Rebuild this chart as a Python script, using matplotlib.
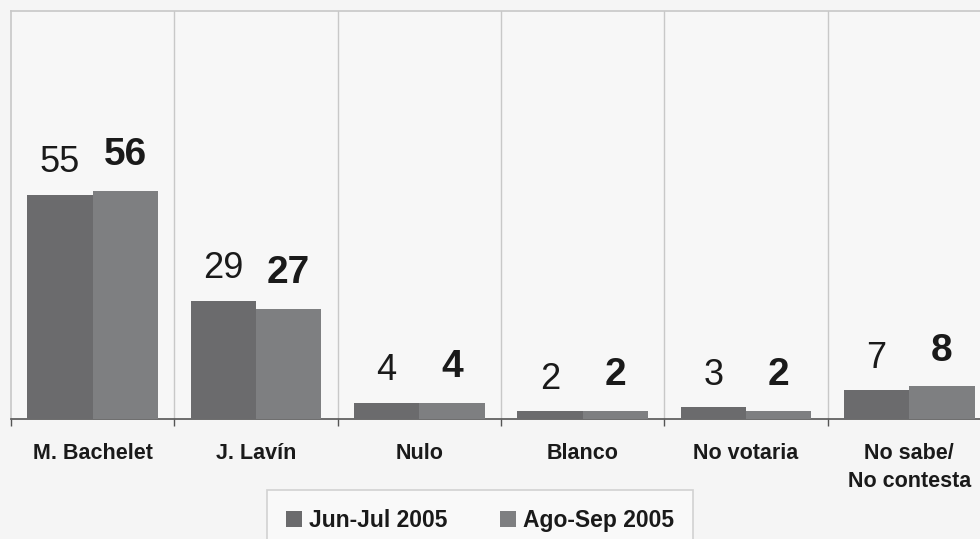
import numpy as np
import matplotlib
matplotlib.use("Agg")
import matplotlib.pyplot as plt

plt.rcParams['font.family'] = ['Liberation Sans', 'DejaVu Sans']

categorias = ["M. Bachelet", "J. Lavín", "Nulo", "Blanco", "No votaria", "No sabe/\nNo contesta"]
jun_jul = [55, 29, 4, 2, 3, 7]
ago_sep = [56, 27, 4, 2, 2, 8]
series = ["Jun-Jul 2005", "Ago-Sep 2005"]

fondo = "#f5f5f5"
color_1 = "#6b6b6d"
color_2 = "#7e7f81"

fig = plt.figure(figsize=(9.8, 5.39), dpi=100, facecolor=fondo)
ax = fig.add_axes([11/980, 120/539, 980/980, 408/539])
ax.set_facecolor("#f7f7f7")

x = np.arange(len(categorias))
w = 0.4
b1 = ax.bar(x - w/2, jun_jul, w, color=color_1, label=series[0], zorder=3)
b2 = ax.bar(x + w/2, ago_sep, w, color=color_2, label=series[1], zorder=3)

# etiquetas de valor: primera serie normal, segunda en negrita
for xi, v in zip(x, jun_jul):
    ax.annotate(str(v), (xi - w/2, v), xytext=(0, 16), textcoords="offset points",
                ha="center", va="baseline", fontsize=26, color="#1a1a1a")
for xi, v in zip(x, ago_sep):
    ax.annotate(str(v), (xi + w/2, v), xytext=(0, 18.5), textcoords="offset points",
                ha="center", va="baseline", fontsize=28, fontweight="bold", color="#1a1a1a")

ax.set_xlim(-0.5, len(categorias) - 0.5)
ax.set_ylim(0, 100)
ax.set_yticks([])

ax.set_xticks(x)
ax.set_xticklabels(categorias, fontsize=15.5, fontweight="bold", color="#1a1a1a",
                   linespacing=1.45)
ax.tick_params(axis="x", which="major", length=0, pad=17)
ax.set_xticks(np.arange(-0.5, len(categorias)), minor=True)
ax.tick_params(axis="x", which="minor", length=5, width=1, color="#555555", direction="out")

# separadores verticales entre categorias
for b in np.arange(0.5, len(categorias) - 0.5):
    ax.axvline(b, color="#c8c8c8", lw=1, zorder=1)

ax.spines["bottom"].set_color("#555555")
ax.spines["bottom"].set_linewidth(1.2)
for s in ["left", "top", "right"]:
    ax.spines[s].set_color("#c8c8c8")
    ax.spines[s].set_linewidth(1.2)

leg = fig.legend(handles=[b1, b2], labels=series, loc="upper center",
                 bbox_to_anchor=(480/980, 1 - 490/539), ncol=2, frameon=True,
                 fancybox=False, prop={"size": 16.5, "weight": "bold"},
                 handlelength=0.7, handleheight=0.7, handletextpad=0.3,
                 columnspacing=2.3, borderpad=0.85, borderaxespad=0)
leg.get_frame().set_facecolor("#fbfbfb")
leg.get_frame().set_edgecolor("#c8c8c8")
leg.get_frame().set_linewidth(1.2)
for t in leg.get_texts():
    t.set_color("#1a1a1a")

fig.savefig("out.png", dpi=100, facecolor=fondo)
